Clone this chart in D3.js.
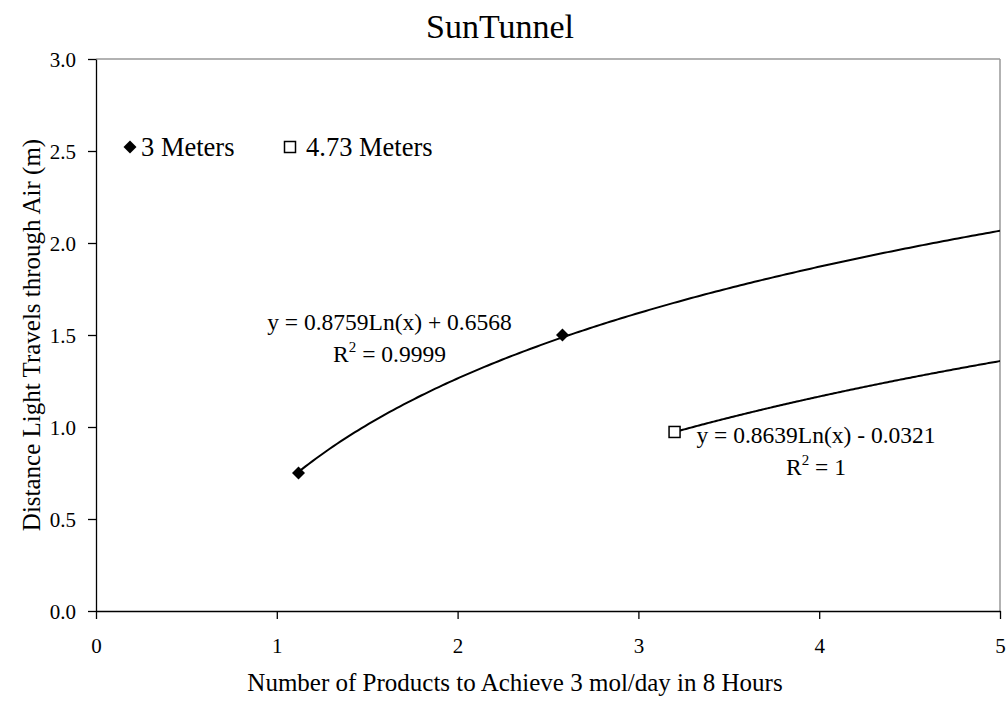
<!DOCTYPE html>
<html><head><meta charset="utf-8">
<script src="https://cdn.jsdelivr.net/npm/d3@7"></script>
<style>body{margin:0;background:#fff}svg{font-family:"Liberation Serif","Times New Roman",serif}</style>
</head><body><svg id="c" width="1007" height="705"></svg>
<script>
const seriesNames = ["3 Meters", "4.73 Meters"];
const xs3 = [1.12, 2.58];
const ys3 = [0.75, 1.50];
const xs473 = [3.2];
const ys473 = [0.973];
const fitA = [0.8759, 0.8639];
const fitB = [0.6568, -0.0321];
const fitLabels = ["y = 0.8759Ln(x) + 0.6568", "y = 0.8639Ln(x) - 0.0321"];
const r2Labels = ["0.9999", "1"];
const xTicks = [0, 1, 2, 3, 4, 5];
const yTicks = [0, 0.5, 1.0, 1.5, 2.0, 2.5, 3.0];

const svg = d3.select("#c");
const L = 96, R = 1000, T = 59, B = 611;
const x = d3.scaleLinear().domain([0, 5]).range([L, R]);
const y = d3.scaleLinear().domain([0, 3]).range([B, T]);

svg.append("line").attr("x1", L).attr("x2", R).attr("y1", T).attr("y2", T).attr("stroke", "#999").attr("stroke-width", 1.5);
svg.append("line").attr("x1", R).attr("x2", R).attr("y1", T).attr("y2", B).attr("stroke", "#999").attr("stroke-width", 1.5);

const xAxis = svg.append("g").attr("transform", `translate(0,${B})`)
  .call(d3.axisBottom(x).tickValues(xTicks).tickFormat(d3.format("d")).tickSize(8).tickPadding(0).tickSizeOuter(0));
const yAxis = svg.append("g").attr("transform", `translate(${L},0)`)
  .call(d3.axisLeft(y).tickValues(yTicks).tickFormat(d3.format(".1f")).tickSize(8).tickPadding(12).tickSizeOuter(0));
[xAxis, yAxis].forEach(g => {
  g.selectAll("path,line").attr("stroke", "#000").attr("stroke-width", 1.3);
  g.selectAll("text").attr("font-family", "Liberation Serif").attr("font-size", 21).attr("fill", "#000");
});
xAxis.selectAll("text").attr("dy", null).attr("y", 42);
yAxis.selectAll("text").attr("dy", "0.34em");

svg.append("clipPath").attr("id", "clip").append("rect").attr("x", L).attr("y", T).attr("width", R - L).attr("height", B - T);

const datasets = [
  { xs: xs3, ys: ys3 },
  { xs: xs473, ys: ys473 }
];
datasets.forEach((ds, i) => {
  const x0 = d3.min(ds.xs);
  const pts = d3.range(0, 201).map(k => x0 + (5 - x0) * k / 200);
  const line = d3.line().x(d => x(d)).y(d => y(fitA[i] * Math.log(d) + fitB[i]));
  svg.append("path").datum(pts).attr("d", line).attr("fill", "none").attr("stroke", "#000").attr("stroke-width", 2).attr("clip-path", "url(#clip)");
});

function drawDiamond(g, cx, cy) {
  g.append("path").attr("d", d3.symbol().type(d3.symbolSquare).size(84)()).attr("transform", `translate(${cx},${cy}) rotate(45)`).attr("fill", "#000");
}
function drawSquare(g, cx, cy) {
  g.append("rect").attr("x", cx - 5.5).attr("y", cy - 5.5).attr("width", 11).attr("height", 11).attr("fill", "#fff").attr("stroke", "#000").attr("stroke-width", 1.5);
}
xs3.forEach((d, i) => drawDiamond(svg, x(d), y(ys3[i])));
xs473.forEach((d, i) => drawSquare(svg, x(d), y(ys473[i])));

const fs = 23.5;
function fitText(cx, cy, eq, r2) {
  svg.append("text").attr("x", cx).attr("y", cy).attr("text-anchor", "middle").attr("font-size", fs).text(eq);
  const t = svg.append("text").attr("x", cx).attr("y", cy + 32).attr("text-anchor", "middle").attr("font-size", fs);
  t.append("tspan").text("R");
  t.append("tspan").attr("dy", -10).attr("font-size", 15).text("2");
  t.append("tspan").attr("dy", 10).text(" = " + r2);
}
fitText(389.5, 330, fitLabels[0], r2Labels[0]);
fitText(816, 443, fitLabels[1], r2Labels[1]);

const lfs = 26.5;
drawDiamond(svg, 130, 147);
svg.append("text").attr("x", 141).attr("y", 156).attr("font-size", lfs).text(seriesNames[0]);
drawSquare(svg, 290, 147);
svg.append("text").attr("x", 306).attr("y", 156).attr("font-size", lfs).text(seriesNames[1]);

svg.append("text").attr("x", 500).attr("y", 38).attr("text-anchor", "middle").attr("font-size", 34).text("SunTunnel");
svg.append("text").attr("x", 515).attr("y", 691).attr("text-anchor", "middle").attr("font-size", 25).text("Number of Products to Achieve 3 mol/day in 8 Hours");
svg.append("text").attr("transform", "translate(40,335) rotate(-90)").attr("text-anchor", "middle").attr("font-size", 25).text("Distance Light Travels through Air (m)");
</script></body></html>
